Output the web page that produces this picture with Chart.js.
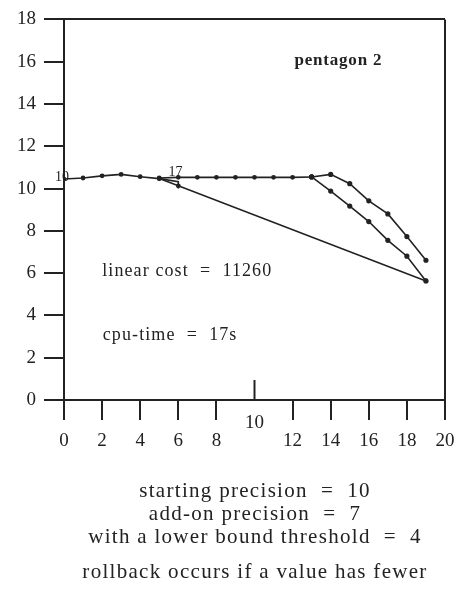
<!DOCTYPE html>
<html>
<head>
<meta charset="utf-8">
<script src="https://cdn.jsdelivr.net/npm/chart.js@4/dist/chart.umd.min.js"></script>
<style>
  html, body { margin: 0; padding: 0; background: #fff; }
  #wrap { width: 461px; height: 589px; position: relative; }
</style>
</head>
<body>
<div id="wrap"><canvas id="chart" width="461" height="589"></canvas></div>
<script>
// ---------- data ----------
const mainX  = [0, 1, 2, 3, 4, 5];
const mainY  = [10.45, 10.5, 10.6, 10.67, 10.56, 10.47];

const flatX  = [5, 6, 7, 8, 9, 10, 11, 12, 13];
const flatY  = [10.5, 10.53, 10.53, 10.53, 10.53, 10.53, 10.53, 10.53, 10.55];

const upperX = [13, 14, 15, 16, 17, 18, 19];
const upperY = [10.55, 10.67, 10.23, 9.42, 8.8, 7.73, 6.61];

const lowerX = [13, 14, 15, 16, 17, 18, 19];
const lowerY = [10.55, 9.88, 9.17, 8.44, 7.55, 6.8, 5.63];

const directX = [5, 6, 19];
const directY = [10.47, 10.13, 5.63];

const notchX = [5, 6, 6];
const notchY = [10.47, 10.32, 10.0];

const xTicks = [0, 2, 4, 6, 8, 10, 12, 14, 16, 18, 20];
const yTicks = [0, 2, 4, 6, 8, 10, 12, 14, 16, 18];

const pointLabels = [
  { text: "10", x: -0.1, y: 10.55 },
  { text: "17", x: 5.85, y: 10.75 }
];

const notes = [
  { text: "pentagon 2", x: 14.4, y: 16.05, bold: true },
  { text: "linear cost  =  11260", x: 6.47, y: 6.1, bold: false },
  { text: "cpu-time  =  17s", x: 5.57, y: 3.05, bold: false }
];

const footer = [
  { text: "starting precision  =  10", y: 491 },
  { text: "add-on precision  =  7", y: 514 },
  { text: "with a lower bound threshold  =  4", y: 537 },
  { text: "rollback occurs if a value has fewer", y: 572 }
];

// ---------- helpers ----------
const INK = "#222";
const SERIF = "'Liberation Serif', 'DejaVu Serif', serif";

function pts(xs, ys){
  return xs.map((x, i) => ({ x: x, y: ys[i] }));
}

function series(xs, ys, radius){
  return {
    data: pts(xs, ys),
    showLine: true,
    borderColor: INK,
    backgroundColor: INK,
    borderWidth: 1.6,
    pointRadius: radius,
    pointHoverRadius: radius,
    tension: 0
  };
}

// ---------- text plugin ----------
const textPlugin = {
  id: "texts",
  afterDraw(chart){
    const ctx = chart.ctx;
    const xs = chart.scales.x;
    const ys = chart.scales.y;
    ctx.save();
    ctx.fillStyle = INK;

    // upward tick + raised label at 10
    const x10 = xs.getPixelForValue(10);
    ctx.strokeStyle = INK;
    ctx.lineWidth = 2;
    ctx.beginPath();
    ctx.moveTo(x10, ys.getPixelForValue(0));
    ctx.lineTo(x10, ys.getPixelForValue(0) - 20);
    ctx.stroke();
    ctx.font = "19px " + SERIF;
    ctx.textAlign = "center";
    ctx.textBaseline = "middle";
    ctx.fillText("10", x10, 423);

    // point labels
    ctx.font = "14px " + SERIF;
    pointLabels.forEach(p => {
      ctx.fillText(p.text, xs.getPixelForValue(p.x), ys.getPixelForValue(p.y));
    });

    // notes in plot
    notes.forEach(n => {
      ctx.font = (n.bold ? "bold 17px " : "18px ") + SERIF;
      ctx.letterSpacing = n.bold ? "0.8px" : "1.1px";
      ctx.fillText(n.text, xs.getPixelForValue(n.x), ys.getPixelForValue(n.y));
    });

    // footer
    ctx.font = "21px " + SERIF;
    ctx.letterSpacing = "1.3px";
    footer.forEach(f => {
      ctx.fillText(f.text, 255, f.y);
    });
    ctx.restore();
  }
};

// ---------- chart ----------
new Chart(document.getElementById("chart"), {
  type: "scatter",
  data: {
    datasets: [
      series(mainX, mainY, 1.6),
      series(flatX, flatY, 1.6),
      series(upperX, upperY, 1.8),
      series(lowerX, lowerY, 1.8),
      series(directX, directY, 1.6),
      series(notchX, notchY, 0)
    ]
  },
  options: {
    responsive: false,
    animation: false,
    events: [],
    layout: { padding: { top: 16, right: 16, left: 0, bottom: 0 } },
    plugins: { legend: { display: false }, tooltip: { enabled: false } },
    scales: {
      x: {
        type: "linear",
        min: 0, max: 20,
        afterFit(scale){ scale.height = 189; scale.paddingRight = 0; },
        afterBuildTicks(scale){ scale.ticks = xTicks.map(v => ({ value: v })); },
        border: { display: true, color: INK, width: 2 },
        grid: {
          drawOnChartArea: true,
          color: c => (c.tick && c.tick.value === 20) ? INK : "rgba(0,0,0,0)",
          lineWidth: 2,
          tickColor: c => (c.tick && c.tick.value === 10) ? "rgba(0,0,0,0)" : INK,
          tickLength: 20,
          tickWidth: 2
        },
        ticks: {
          color: INK,
          font: { family: SERIF, size: 19 },
          padding: 10,
          maxRotation: 0,
          autoSkip: false,
          callback: v => (v === 10 ? "" : String(v))
        }
      },
      y: {
        type: "linear",
        min: 0, max: 18,
        afterFit(scale){ scale.width = 64; },
        afterBuildTicks(scale){ scale.ticks = yTicks.map(v => ({ value: v })); },
        border: { display: true, color: INK, width: 2 },
        grid: {
          drawOnChartArea: true,
          color: c => (c.tick && c.tick.value === 18) ? INK : "rgba(0,0,0,0)",
          lineWidth: 2,
          tickColor: INK,
          tickLength: 20,
          tickWidth: 2
        },
        ticks: {
          color: INK,
          font: { family: SERIF, size: 19 },
          padding: 8,
          autoSkip: false
        }
      }
    }
  },
  plugins: [textPlugin]
});
</script>
</body>
</html>
